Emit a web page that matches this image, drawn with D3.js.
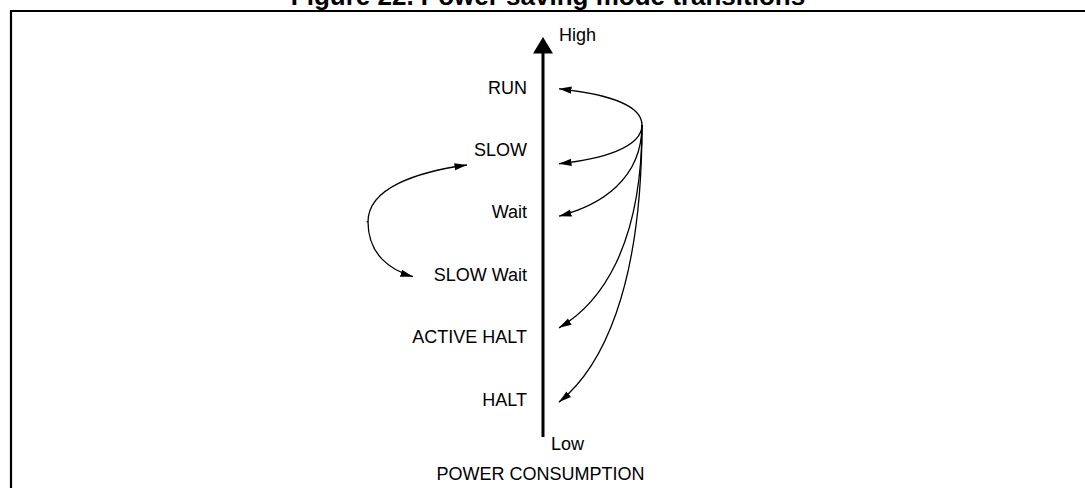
<!DOCTYPE html>
<html>
<head>
<meta charset="utf-8">
<script src="https://cdn.jsdelivr.net/npm/d3@7"></script>
<style>
  html, body { margin: 0; padding: 0; background: #fff; }
  svg { display: block; font-family: "Liberation Sans", Arial, sans-serif; }
</style>
</head>
<body>
<svg id="chart" width="1085" height="488"></svg>
<script>
// ---- data ----
const title = "Figure 22. Power saving mode transitions";
const axisTitle = "POWER CONSUMPTION";
const axisHigh = "High";
const axisLow = "Low";
const states = ["RUN", "SLOW", "Wait", "SLOW Wait", "ACTIVE HALT", "HALT"];
// transitions fanning out of RUN (origin level, target level in state units)
const runOriginLevel = 0.61;
const runTargets = ["RUN", "SLOW", "Wait", "ACTIVE HALT", "HALT"];
const runTargetLevels = [0.03, 1.23, 2.07, 3.86, 5.05];
// SLOW <-> SLOW Wait loop
const loopOriginLevel = 2.16;
const loopTargets = ["SLOW", "SLOW Wait"];
const loopTargetLevels = [1.25, 3.04];

// ---- layout ----
const W = 1085, H = 488;
const svg = d3.select("#chart");
const axisX = 543;
const yLevel = d3.scaleLinear().domain([0, states.length - 1]).range([87, 399]);
const yState = d3.scalePoint().domain(states).range([87, 399]);

// frame (left + top only)
svg.append("path")
  .attr("d", `M11,${H} V11 H${W}`)
  .attr("fill", "none").attr("stroke", "#000").attr("stroke-width", 2.2);

// title
svg.append("text")
  .attr("x", 548).attr("y", 5)
  .attr("text-anchor", "middle")
  .attr("font-weight", "bold").attr("font-size", 26)
  .text(title);

// defs: arrow marker
const defs = svg.append("defs");
defs.append("marker")
  .attr("id", "ah").attr("markerUnits", "userSpaceOnUse")
  .attr("viewBox", "0 -5 13 10").attr("refX", 12.5).attr("refY", 0)
  .attr("markerWidth", 13).attr("markerHeight", 10)
  .attr("orient", "auto")
  .append("path").attr("d", "M0,-3.6 L12.5,0 L0,3.6 Z").attr("fill", "#000");

// axis
svg.append("line")
  .attr("x1", axisX).attr("x2", axisX)
  .attr("y1", 52).attr("y2", 437)
  .attr("stroke", "#000").attr("stroke-width", 3);
svg.append("path")
  .attr("d", `M${axisX},37 L${axisX + 10},53.5 L${axisX - 10},53.5 Z`)
  .attr("fill", "#000");

svg.append("text").attr("x", 559).attr("y", 40.5)
  .attr("font-size", 18).text(axisHigh);
svg.append("text").attr("x", 551).attr("y", 449.5)
  .attr("font-size", 18).text(axisLow);
svg.append("text").attr("x", 540.5).attr("y", 479.5)
  .attr("text-anchor", "middle").attr("font-size", 18).text(axisTitle);

// state labels
svg.append("g").selectAll("text").data(states).join("text")
  .attr("x", 527).attr("y", d => yState(d) + 6.5)
  .attr("text-anchor", "end").attr("font-size", 18)
  .text(d => d);

// curve builder
function curve(ox, oy, tx, ty) {
  const c1x = ox, c1y = oy + 0.6 * (ty - oy);
  const c2x = tx + 0.5 * (ox - tx), c2y = ty - 0.12 * (ty - oy);
  const p = d3.path();
  p.moveTo(ox, oy);
  p.bezierCurveTo(c1x, c1y, c2x, c2y, tx, ty);
  return p.toString();
}

// right fan
const fanX = 642, tipX = 559;
svg.append("g").selectAll("path")
  .data(runTargets.map((t, i) => ({ t, lv: runTargetLevels[i] })))
  .join("path")
  .attr("d", d => curve(fanX, yLevel(runOriginLevel), tipX, yLevel(d.lv)))
  .attr("fill", "none").attr("stroke", "#000").attr("stroke-width", 1.3)
  .attr("marker-end", "url(#ah)");

// left loop
const loopX = 368;
const loopTipX = { "SLOW": 467, "SLOW Wait": 413 };
svg.append("g").selectAll("path")
  .data(loopTargets.map((t, i) => ({ t, lv: loopTargetLevels[i] })))
  .join("path")
  .attr("d", d => curve(loopX, yLevel(loopOriginLevel), loopTipX[d.t], yLevel(d.lv)))
  .attr("fill", "none").attr("stroke", "#000").attr("stroke-width", 1.3)
  .attr("marker-end", "url(#ah)");
svg.append("line")
  .attr("x1", loopX - 1.5).attr("x2", loopX + 0.5)
  .attr("y1", yLevel(loopOriginLevel)).attr("y2", yLevel(loopOriginLevel))
  .attr("stroke", "#000").attr("stroke-width", 1);
</script>
</body>
</html>
